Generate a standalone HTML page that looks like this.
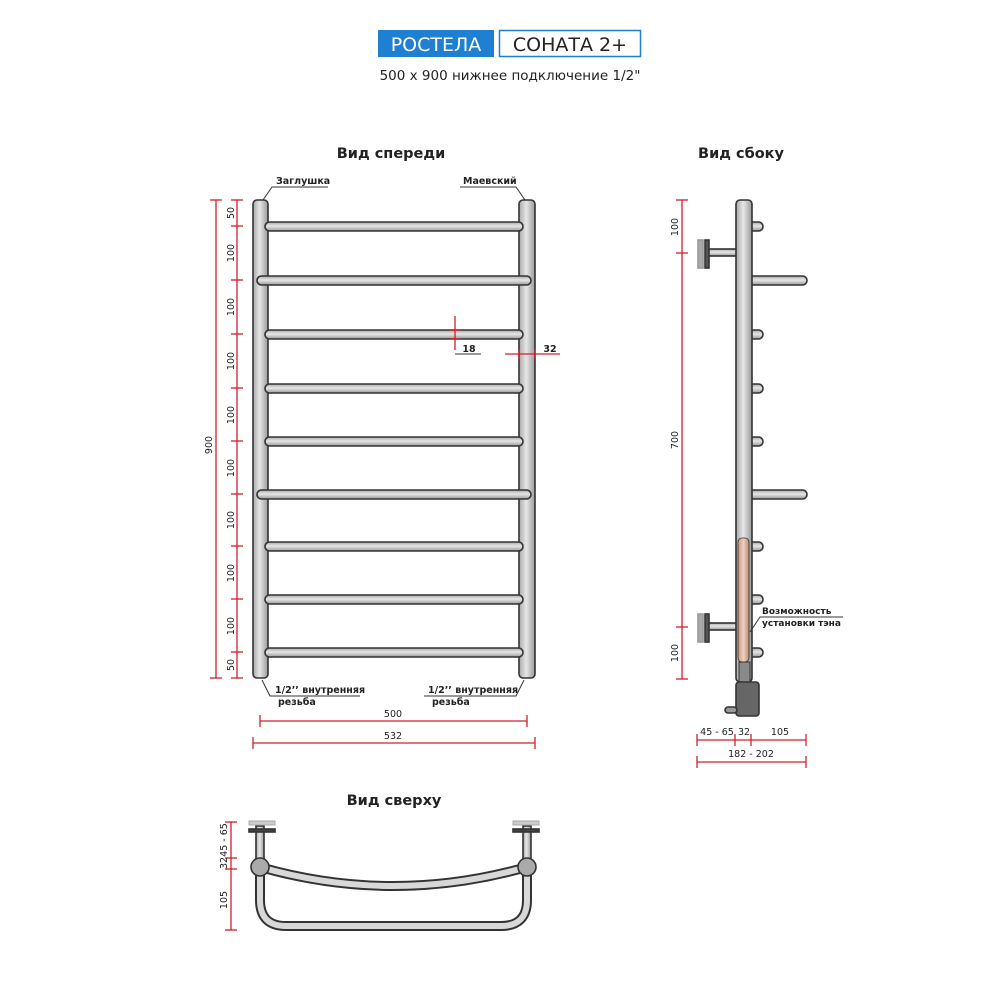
<!DOCTYPE html>
<html><head><meta charset="utf-8"><style>
html,body{margin:0;padding:0;background:#fff}
svg{display:block}
text{font-family:"DejaVu Sans","Liberation Sans",sans-serif;fill:#222}
</style></head><body>
<svg width="1000" height="1000" viewBox="0 0 1000 1000" xmlns="http://www.w3.org/2000/svg">
<defs>
<linearGradient id="gv" x1="0" x2="1" y1="0" y2="0"><stop offset="0" stop-color="#a9a9a9"/><stop offset="0.45" stop-color="#e6e6e6"/><stop offset="1" stop-color="#9a9a9a"/></linearGradient>
<linearGradient id="gh" x1="0" x2="0" y1="0" y2="1"><stop offset="0" stop-color="#a9a9a9"/><stop offset="0.45" stop-color="#e6e6e6"/><stop offset="1" stop-color="#9a9a9a"/></linearGradient>
<linearGradient id="gc" x1="0" x2="1"><stop offset="0" stop-color="#c9977d"/><stop offset="0.5" stop-color="#ecd2c2"/><stop offset="1" stop-color="#c08a70"/></linearGradient>
</defs>
<!-- header -->
<rect x="378" y="30" width="116" height="27" fill="#1f7fd1"/>
<text x="436" y="51" font-size="19" text-anchor="middle" style="fill:#fff">РОСТЕЛА</text>
<rect x="499.5" y="30.5" width="141" height="26" fill="#fff" stroke="#1f7fd1" stroke-width="1.5"/>
<text x="570" y="51" font-size="19" text-anchor="middle">СОНАТА 2+</text>
<text x="510" y="80" font-size="13.5" text-anchor="middle">500 x 900 нижнее подключение 1/2"</text>

<text x="391" y="158" font-size="14.5" font-weight="bold" text-anchor="middle">Вид спереди</text>
<text x="741" y="158" font-size="14.5" font-weight="bold" text-anchor="middle">Вид сбоку</text>
<text x="394" y="805" font-size="14.5" font-weight="bold" text-anchor="middle">Вид сверху</text>

<!-- front view -->
<g stroke="#333" stroke-width="1.6">
<rect x="253" y="200" width="15" height="478" rx="4" fill="url(#gv)"/>
<rect x="519" y="200" width="16" height="478" rx="4" fill="url(#gv)"/>
<g fill="url(#gh)">
<rect x="265" y="222" width="258" height="9" rx="4.5"/>
<rect x="257" y="276" width="274" height="9" rx="4.5"/>
<rect x="265" y="330" width="258" height="9" rx="4.5"/>
<rect x="265" y="384" width="258" height="9" rx="4.5"/>
<rect x="265" y="437" width="258" height="9" rx="4.5"/>
<rect x="257" y="490" width="274" height="9" rx="4.5"/>
<rect x="265" y="542" width="258" height="9" rx="4.5"/>
<rect x="265" y="595" width="258" height="9" rx="4.5"/>
<rect x="265" y="648" width="258" height="9" rx="4.5"/>
</g>
</g>
<!-- front labels -->
<g font-size="9.5" font-weight="bold">
<text x="276" y="184">Заглушка</text>
<text x="463" y="184">Маевский</text>
<text x="275" y="693">1/2’’ внутренняя</text>
<text x="278" y="705">резьба</text>
<text x="428" y="693">1/2’’ внутренняя</text>
<text x="432" y="705">резьба</text>
</g>
<g stroke="#333" stroke-width="1" fill="none">
<polyline points="328,187 272,187 263,200"/>
<polyline points="460,187 516,187 525,200"/>
<polyline points="360,696 270,696 262,680"/>
<polyline points="424,696 516,696 524,680"/>
<polyline points="455,354 455,354 481,354"/>
</g>
<!-- red dims front -->
<g stroke="#d0202a" stroke-width="1.3" fill="none">
<line x1="216" y1="200" x2="216" y2="678"/>
<line x1="210" y1="200" x2="222" y2="200"/><line x1="210" y1="678" x2="222" y2="678"/>
<line x1="237" y1="200" x2="237" y2="678"/>
<g>
<line x1="231" y1="200" x2="243" y2="200"/><line x1="231" y1="226" x2="243" y2="226"/><line x1="231" y1="280" x2="243" y2="280"/><line x1="231" y1="334" x2="243" y2="334"/><line x1="231" y1="388" x2="243" y2="388"/><line x1="231" y1="441" x2="243" y2="441"/><line x1="231" y1="494" x2="243" y2="494"/><line x1="231" y1="546" x2="243" y2="546"/><line x1="231" y1="599" x2="243" y2="599"/><line x1="231" y1="652" x2="243" y2="652"/><line x1="231" y1="678" x2="243" y2="678"/>
</g>
<line x1="260" y1="721" x2="527" y2="721"/><line x1="260" y1="715" x2="260" y2="727"/><line x1="527" y1="715" x2="527" y2="727"/>
<line x1="253" y1="743" x2="535" y2="743"/><line x1="253" y1="737" x2="253" y2="749"/><line x1="535" y1="737" x2="535" y2="749"/>
<line x1="455" y1="316" x2="455" y2="350"/><line x1="450" y1="330" x2="460" y2="330"/><line x1="450" y1="339" x2="460" y2="339"/>
<line x1="505" y1="354" x2="560" y2="354"/><line x1="519" y1="349" x2="519" y2="359"/><line x1="535" y1="349" x2="535" y2="359"/>
</g>
<g font-size="9.5" text-anchor="middle">
<text transform="translate(212,445) rotate(-90)">900</text>
<text transform="translate(234,213) rotate(-90)">50</text>
<text transform="translate(234,253) rotate(-90)">100</text>
<text transform="translate(234,307) rotate(-90)">100</text>
<text transform="translate(234,361) rotate(-90)">100</text>
<text transform="translate(234,415) rotate(-90)">100</text>
<text transform="translate(234,468) rotate(-90)">100</text>
<text transform="translate(234,520) rotate(-90)">100</text>
<text transform="translate(234,573) rotate(-90)">100</text>
<text transform="translate(234,626) rotate(-90)">100</text>
<text transform="translate(234,665) rotate(-90)">50</text>
<text x="393" y="717">500</text>
<text x="393" y="739">532</text>
<text x="469" y="352" font-weight="bold">18</text>
<text x="550" y="352" font-weight="bold">32</text>
</g>

<!-- side view -->
<g stroke="#333" stroke-width="1.6">
<g fill="url(#gh)">
<rect x="745" y="222" width="18" height="9" rx="4.5"/>
<rect x="745" y="276" width="62" height="9" rx="4.5"/>
<rect x="745" y="330" width="18" height="9" rx="4.5"/>
<rect x="745" y="384" width="18" height="9" rx="4.5"/>
<rect x="745" y="437" width="18" height="9" rx="4.5"/>
<rect x="745" y="490" width="62" height="9" rx="4.5"/>
<rect x="745" y="542" width="18" height="9" rx="4.5"/>
<rect x="745" y="595" width="18" height="9" rx="4.5"/>
<rect x="745" y="648" width="18" height="9" rx="4.5"/>
<rect x="708" y="249" width="30" height="7"/>
<rect x="708" y="623" width="30" height="7"/>
</g>
<rect x="736" y="200" width="16" height="482" rx="4" fill="url(#gv)"/>
<rect x="738" y="538" width="11" height="124" rx="4" fill="url(#gc)" stroke-width="0.8"/>
<rect x="739" y="662" width="11" height="20" fill="#8a8a8a" stroke-width="1"/>
<rect x="736" y="682" width="23" height="34" rx="3" fill="#666"/>
<rect x="725" y="707" width="12" height="6" rx="3" fill="#999"/>
<rect x="698" y="240" width="5" height="28" fill="#aaa" stroke="#999"/>
<rect x="705" y="240" width="4" height="28" fill="#555"/>
<rect x="698" y="614" width="5" height="28" fill="#aaa" stroke="#999"/>
<rect x="705" y="614" width="4" height="28" fill="#555"/>
</g>
<g font-size="9" font-weight="bold">
<text x="762" y="614">Возможность</text>
<text x="762" y="626">установки тэна</text>
</g>
<polyline points="843,617 760,617 750,632" stroke="#333" stroke-width="1" fill="none"/>
<g stroke="#d0202a" stroke-width="1.3" fill="none">
<line x1="682" y1="200" x2="682" y2="679"/>
<line x1="676" y1="200" x2="688" y2="200"/><line x1="676" y1="253" x2="688" y2="253"/><line x1="676" y1="627" x2="688" y2="627"/><line x1="676" y1="679" x2="688" y2="679"/>
<line x1="697" y1="740" x2="806" y2="740"/>
<line x1="697" y1="734" x2="697" y2="746"/><line x1="735" y1="734" x2="735" y2="746"/><line x1="751" y1="734" x2="751" y2="746"/><line x1="806" y1="734" x2="806" y2="746"/>
<line x1="697" y1="762" x2="806" y2="762"/><line x1="697" y1="756" x2="697" y2="768"/><line x1="806" y1="756" x2="806" y2="768"/>
</g>
<g font-size="9.5" text-anchor="middle">
<text transform="translate(678,227) rotate(-90)">100</text>
<text transform="translate(678,440) rotate(-90)">700</text>
<text transform="translate(678,653) rotate(-90)">100</text>
<text x="717" y="735">45 - 65</text>
<text x="744" y="735">32</text>
<text x="780" y="735">105</text>
<text x="751" y="757">182 - 202</text>
</g>

<!-- top view -->
<g stroke="#333" stroke-width="1.6">
<path d="M260 867 L260 900 Q260 926 286 926 L501 926 Q527 926 527 900 L527 867" fill="none" stroke="#333" stroke-width="10" stroke-linecap="round"/>
<path d="M260 867 L260 900 Q260 926 286 926 L501 926 Q527 926 527 900 L527 867" fill="none" stroke="#d8d8d8" stroke-width="6"/>
<path d="M260 867 Q393 905 527 867" fill="none" stroke="#333" stroke-width="10"/>
<path d="M260 867 Q393 905 527 867" fill="none" stroke="#d8d8d8" stroke-width="6"/>
<rect x="256" y="826" width="8" height="34" fill="url(#gv)"/>
<rect x="523" y="826" width="8" height="34" fill="url(#gv)"/>
<rect x="249" y="821" width="26" height="4" fill="#ccc" stroke="#aaa" stroke-width="1"/>
<rect x="249" y="829" width="26" height="3" fill="#444"/>
<rect x="513" y="821" width="26" height="4" fill="#ccc" stroke="#aaa" stroke-width="1"/>
<rect x="513" y="829" width="26" height="3" fill="#444"/>
<circle cx="260" cy="867" r="9" fill="#aaa"/>
<circle cx="527" cy="867" r="9" fill="#aaa"/>
</g>
<g stroke="#d0202a" stroke-width="1.3" fill="none">
<line x1="231" y1="822" x2="231" y2="930"/>
<line x1="225" y1="822" x2="237" y2="822"/><line x1="225" y1="858" x2="237" y2="858"/><line x1="225" y1="869" x2="237" y2="869"/><line x1="225" y1="930" x2="237" y2="930"/>
</g>
<g font-size="9.5" text-anchor="middle">
<text transform="translate(227,840) rotate(-90)">45 - 65</text>
<text transform="translate(227,863) rotate(-90)">32</text>
<text transform="translate(227,900) rotate(-90)">105</text>
</g>
</svg>
</body></html>
